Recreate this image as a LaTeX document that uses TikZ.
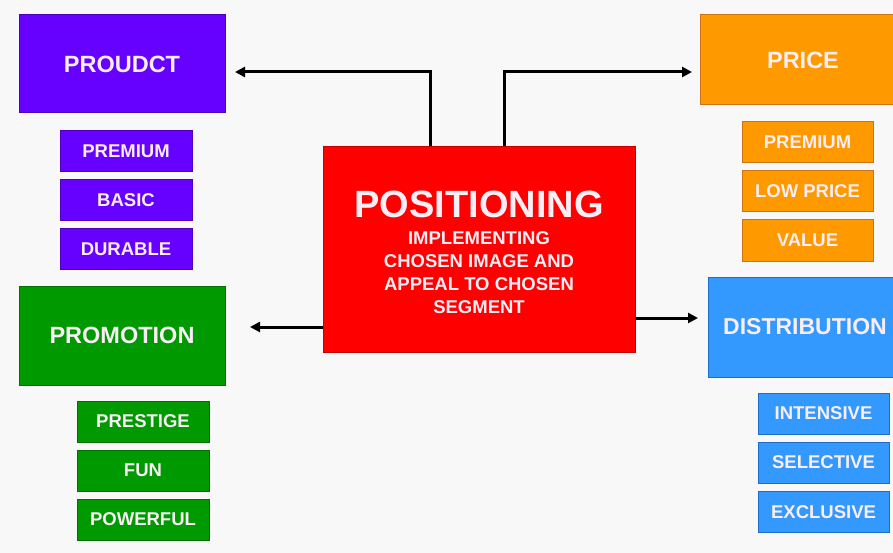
\documentclass[tikz,border=0pt]{standalone}
\usepackage{fontspec}
\setmainfont{Liberation Sans}
\usetikzlibrary{arrows.meta,positioning}

\begin{document}
\begin{tikzpicture}[x=1pt,y=-1pt,
    box/.style={line width=1pt, inner sep=0pt, text={rgb,255:red,250; green,238; blue,246}},
    head/.style={box, minimum width=206pt, font=\bfseries\fontsize{23.5}{26}\selectfont},
    item/.style={box, minimum width=131pt, minimum height=41pt, font=\bfseries\fontsize{18.5}{22}\selectfont},
    prodcol/.style={fill={rgb,255:red,102; green,0; blue,255}, draw={rgb,255:red,78; green,0; blue,190}},
    pricecol/.style={fill={rgb,255:red,255; green,153; blue,0}, draw={rgb,255:red,205; green,115; blue,20}},
    promocol/.style={fill={rgb,255:red,0; green,153; blue,0}, draw={rgb,255:red,0; green,112; blue,0}},
    distcol/.style={fill={rgb,255:red,51; green,153; blue,255}, draw={rgb,255:red,30; green,110; blue,200}},
    link/.style={line width=3pt, -{Triangle[length=10pt,width=10pt]}}
]
    \path[use as bounding box, clip] (0,0) rectangle (893,553);
    \fill[color={rgb,255:red,248; green,248; blue,248}] (0,0) rectangle (893,553);

    % centre
    \node[box, fill={rgb,255:red,255; green,0; blue,0}, draw={rgb,255:red,200; green,0; blue,0}, minimum width=312pt, minimum height=205pt] (posn) at (479,249.5) {};
    \node[box, font=\bfseries\fontsize{38}{40}\selectfont] (title) at (479,204) {POSITIONING};
    \node[box, align=center, font=\bfseries\fontsize{18.5}{23}\selectfont] (aim) at (479,272.5) {IMPLEMENTING\\CHOSEN IMAGE AND\\APPEAL TO CHOSEN\\SEGMENT};

    % product
    \node[head, prodcol, minimum height=98pt] (prod) at (122,64) {PROUDCT};
    \node[item, prodcol, minimum width=132pt] (prod1) at (126,151) {PREMIUM};
    \node[item, prodcol, minimum width=132pt] (prod2) at (126,200) {BASIC};
    \node[item, prodcol, minimum width=132pt] (prod3) at (126,249) {DURABLE};

    % price
    \node[head, pricecol, minimum height=90pt] (price) at (803,60) {PRICE};
    \node[item, pricecol] (price1) at (807.5,142) {PREMIUM};
    \node[item, pricecol] (price2) at (807.5,191.5) {LOW PRICE};
    \node[item, pricecol] (price3) at (807.5,240.5) {VALUE};

    % promotion
    \node[head, promocol, minimum height=99pt] (promo) at (122,335.5) {PROMOTION};
    \node[item, promocol, minimum width=132pt] (promo1) at (143,421.5) {PRESTIGE};
    \node[item, promocol, minimum width=132pt] (promo2) at (143,470.5) {FUN};
    \node[item, promocol, minimum width=132pt] (promo3) at (143,519.5) {POWERFUL};

    % distribution
    \node[head, distcol, minimum width=194pt, minimum height=100pt, font=\bfseries\fontsize{23}{26}\selectfont] (dist) at (805,327) {DISTRIBUTION};
    \node[item, distcol] (dist1) at (823.5,413.5) {INTENSIVE};
    \node[item, distcol] (dist2) at (823.5,462.5) {SELECTIVE};
    \node[item, distcol] (dist3) at (823.5,512) {EXCLUSIVE};

    % arrows
    \coordinate (prodtip) at (235,72);
    \coordinate (pricetip) at (692,72);
    \coordinate (promotip) at (250,327);
    \coordinate (disttip) at (698,318);
    \draw[link] ([xshift=-49pt]posn.north) |- (prodtip);
    \draw[link] ([xshift=25pt]posn.north) |- (pricetip);
    \draw[link] (posn.west |- promotip) -- (promotip);
    \draw[link] (posn.east |- disttip) -- (disttip);
\end{tikzpicture}
\end{document}
